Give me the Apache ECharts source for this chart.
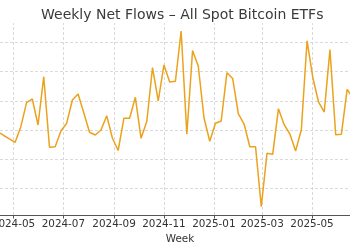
<!DOCTYPE html>
<html>
<head>
<meta charset="utf-8">
<script src="https://cdn.jsdelivr.net/npm/echarts@6/dist/echarts.min.js"></script>
<style>
  html, body { margin: 0; padding: 0; background: #fff; }
  #chart { width: 350px; height: 250px; }
</style>
</head>
<body>
<div id="chart"></div>
<script>
// weekly net flows, $M (week ending Friday)
const weeks = [
  '2024-04-12', '2024-04-19', '2024-04-26', '2024-05-03', '2024-05-10', '2024-05-17',
  '2024-05-24', '2024-05-31', '2024-06-07', '2024-06-14', '2024-06-21', '2024-06-28',
  '2024-07-05', '2024-07-12', '2024-07-19', '2024-07-26', '2024-08-02', '2024-08-09',
  '2024-08-16', '2024-08-23', '2024-08-30', '2024-09-06', '2024-09-13', '2024-09-20',
  '2024-09-27', '2024-10-04', '2024-10-11', '2024-10-18', '2024-10-25', '2024-11-01',
  '2024-11-08', '2024-11-15', '2024-11-22', '2024-11-29', '2024-12-06', '2024-12-13',
  '2024-12-20', '2024-12-27', '2025-01-03', '2025-01-10', '2025-01-17', '2025-01-24',
  '2025-01-31', '2025-02-07', '2025-02-14', '2025-02-21', '2025-02-28', '2025-03-07',
  '2025-03-14', '2025-03-21', '2025-03-28', '2025-04-04', '2025-04-11', '2025-04-18',
  '2025-04-25', '2025-05-02', '2025-05-09', '2025-05-16', '2025-05-23', '2025-05-30',
  '2025-06-06', '2025-06-13', '2025-06-20'
];
const netFlows = [
  -68, -188, -301, -421, 113, 935,
  1062, 171, 1825, -592, -572, -34,
  229, 1027, 1233, 582, -79, -171,
  0, 490, -284, -702, 401, 401,
  1120, -284, 291, 2134, 1000, 2226,
  1644, 1668, 3390, -147, 2723, 2182,
  411, -387, 229, 308, 1962, 1764,
  548, 205, -572, -572, -2627, -798,
  -832, 729, 182, -137, -719, 10,
  3055, 1798, 959, 616, 2750, -161,
  -144, 1394, 1096
];
const tickMonths = ['2024-05-01', '2024-07-01', '2024-09-01', '2024-11-01',
  '2025-01-01', '2025-03-01', '2025-05-01'];

// date string -> UTC ms
const ts = s => {
  const [d, t] = s.split(' ');
  const [y, m, day] = d.split('-').map(Number);
  const hr = t ? Number(t.split(':')[0]) : 0;
  return Date.UTC(y, m - 1, day, hr);
};

const chart = echarts.init(document.getElementById('chart'));

const gridStyle = { color: '#d0d0d0', width: 0.8, type: [3, 2] };
const monthVals = tickMonths.map(ts);

chart.setOption({
  animation: false,
  textStyle: { fontFamily: 'DejaVu Sans' },
  title: {
    text: 'Weekly Net Flows – All Spot Bitcoin ETFs',
    left: 36,
    top: 3,
    textStyle: { fontFamily: 'DejaVu Sans', fontSize: 14, fontWeight: 'normal', color: '#3a3a3a' }
  },
  grid: { left: 0, right: 0, top: 23, bottom: 35, containLabel: false, outerBoundsMode: 'none' },
  xAxis: {
    type: 'value',
    min: ts('2024-04-14 12:00'),
    max: ts('2025-06-16 12:00'),
    scale: true,
    name: 'Week',
    nameLocation: 'middle',
    nameGap: 17,
    nameTextStyle: { fontSize: 10.4, color: '#333', padding: [0, 0, 0, 10] },
    axisLine: { onZero: false, lineStyle: { color: '#555', width: 1 } },
    axisTick: { show: true, length: 3.5, customValues: monthVals, lineStyle: { color: '#555' } },
    axisLabel: {
      customValues: monthVals,
      fontSize: 10.4,
      color: '#333',
      margin: 4,
      showMinLabel: true,
      showMaxLabel: true,
      hideOverlap: false,
      formatter: v => echarts.time.format(v, '{yyyy}-{MM}', true)
    },
    splitLine: { show: false }
  },
  yAxis: {
    type: 'value',
    min: -2911,
    max: 3664,
    axisLine: { show: false },
    axisTick: { show: false },
    axisLabel: { show: false },
    splitLine: { show: true, showMinLine: false, showMaxLine: false, lineStyle: gridStyle }
  },
  series: [{
    type: 'line',
    data: weeks.map((w, i) => [ts(w), netFlows[i]]),
    showSymbol: false,
    symbol: 'none',
    lineStyle: { color: '#eba21c', width: 1.5 },
    itemStyle: { color: '#eba21c' },
    z: 3,
    markLine: {
      silent: true,
      symbol: 'none',
      label: { show: false },
      lineStyle: gridStyle,
      z: 1,
      data: monthVals.map(v => ({ xAxis: v }))
    }
  }]
});
</script>
</body>
</html>
